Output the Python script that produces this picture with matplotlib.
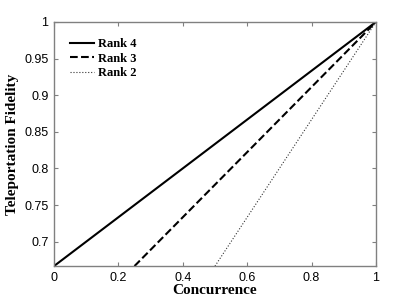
import numpy as np
import matplotlib
matplotlib.use("Agg")
import matplotlib.pyplot as plt

# Concurrence start points of each rank line (all end at C=1, F=1)
rank_labels = ["Rank 4", "Rank 3", "Rank 2"]
c_start = [0.0, 0.25, 0.5]
c_end = [1.0, 1.0, 1.0]
f_start = [2 / 3, 2 / 3, 2 / 3]
f_end = [1.0, 1.0, 1.0]
styles = ["-", "--", ":"]
widths = [1.5, 1.5, 0.8]
colors = ["black", "black", "#333333"]

fig = plt.figure(figsize=(4.15, 3.0), dpi=100)
ax = fig.add_axes([0.130, 0.113, 0.776, 0.814])

for lab, c0, c1, f0, f1, ls, lw, col in zip(rank_labels, c_start, c_end, f_start, f_end,
                                            styles, widths, colors):
    ax.plot([c0, c1], [f0, f1], ls, color=col, lw=lw, label=lab)

ax.set_xlim(0, 1)
ax.set_ylim(2 / 3, 1)
ax.set_xticks([0, 0.2, 0.4, 0.6, 0.8, 1])
ax.set_xticklabels(["0", "0.2", "0.4", "0.6", "0.8", "1"])
ax.set_yticks([0.7, 0.75, 0.8, 0.85, 0.9, 0.95, 1])
ax.set_yticklabels(["0.7", "0.75", "0.8", "0.85", "0.9", "0.95", "1"])

for sp in ax.spines.values():
    sp.set_color("#808080")
    sp.set_linewidth(1.0)
ax.tick_params(direction="in", length=3, color="#808080", top=True, right=True,
               labelsize=9, pad=4)
for t in ax.get_xticklabels() + ax.get_yticklabels():
    t.set_family("Liberation Sans")

ax.set_xlabel("Concurrence", family="Liberation Serif", fontweight="bold",
              fontsize=11, labelpad=0)
ax.set_ylabel("Teleportation Fidelity", family="Liberation Serif", fontweight="bold",
              fontsize=11, labelpad=4)

ax.legend(loc="upper left", frameon=False, handlelength=1.9, handletextpad=0.3,
          labelspacing=0.2, borderaxespad=0.9,
          prop={"family": "Liberation Serif", "weight": "bold", "size": 9})

fig.savefig("out.png", dpi=100)
